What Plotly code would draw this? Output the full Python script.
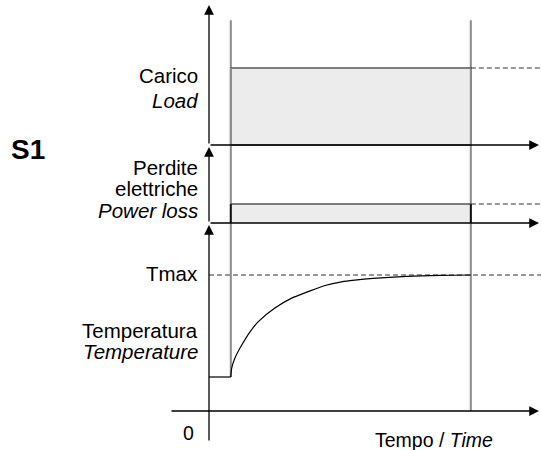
import plotly.graph_objects as go

# ---------------- data ----------------
t_on = 1.0            # switch-on instant
t_off = 12.0          # end of observed period
load_level = 1.0      # constant load (Carico / Load)
power_level = 1.0     # constant electrical losses (Perdite elettriche / Power loss)
t_ambient = 1.0       # starting temperature
t_max = 4.0           # Tmax

temp_time = [1.0, 1.04, 1.19, 1.50, 1.88, 2.26, 3.02, 3.79, 4.54, 5.32, 6.08,
             6.69, 7.52, 9.06, 10.6, 12.0]
temp_value = [1.0, 1.26, 1.56, 1.94, 2.33, 2.63, 3.03, 3.32, 3.51, 3.69, 3.80,
              3.85, 3.90, 3.96, 3.99, 4.0]

label_load = ["Carico", "<i>Load</i>"]
label_power = ["Perdite", "elettriche", "<i>Power loss</i>"]
label_temp = ["Temperatura", "<i>Temperature</i>"]
label_tmax = "Tmax"
label_time = "Tempo / <i>Time</i>"
label_zero = "0"
label_title = "<b>S1</b>"

# ---------------- layout calibration ----------------
W, H = 541, 450
PX_T = 240 / 11.0            # px per time unit
X0_PX = 209                  # pixel of time 0
XMIN = -X0_PX / PX_T
XMAX = (W - X0_PX) / PX_T

# temperature axis (y): 0 at px 411, 34 px/unit
T_ZERO, T_SCALE = 411, 34.0
# load axis (y2): 0 at px 145, 77 px/unit
L_ZERO, L_SCALE = 145, 77.0
# power axis (y3): 0 at px 223, 19 px/unit
P_ZERO, P_SCALE = 223, 19.0


def rng(zero, scale):
    return [-(H - zero) / scale, zero / scale]


FONT = "Liberation Sans, Arial, Helvetica, sans-serif"
GRAY = "#8a8a8a"
FILL = "#ececec"

fig = go.Figure()

# vertical instant lines (t_on down to the temperature step, t_off down to time axis)
top_load = 1.62 * load_level
top_temp = (T_ZERO - (L_ZERO - top_load * L_SCALE)) / T_SCALE
fig.add_trace(go.Scatter(x=[t_on, t_on], y=[t_ambient, top_temp],
                         mode="lines", line=dict(color=GRAY, width=2), yaxis="y",
                         hoverinfo="skip", showlegend=False))
fig.add_trace(go.Scatter(x=[t_off, t_off], y=[0, top_temp],
                         mode="lines", line=dict(color=GRAY, width=2), yaxis="y",
                         hoverinfo="skip", showlegend=False))

# load rectangle
fig.add_trace(go.Scatter(x=[t_on, t_on, t_off, t_off, t_on], y=[0, load_level, load_level, 0, 0],
                         mode="lines", fill="toself", fillcolor=FILL,
                         line=dict(color="#555555", width=1.3), yaxis="y2",
                         hoverinfo="skip", showlegend=False))
fig.add_trace(go.Scatter(x=[t_on, t_on], y=[0, load_level], mode="lines",
                         line=dict(color=GRAY, width=2), yaxis="y2",
                         hoverinfo="skip", showlegend=False))
fig.add_trace(go.Scatter(x=[t_off, t_off], y=[0, load_level], mode="lines",
                         line=dict(color=GRAY, width=2), yaxis="y2",
                         hoverinfo="skip", showlegend=False))

# power loss rectangle
fig.add_trace(go.Scatter(x=[t_on, t_off], y=[power_level, power_level],
                         mode="lines", fill="tozeroy", fillcolor=FILL,
                         line=dict(color="#555555", width=1.3), yaxis="y3",
                         hoverinfo="skip", showlegend=False))
for tt in (t_on, t_off):
    fig.add_trace(go.Scatter(x=[tt, tt], y=[0, power_level], mode="lines",
                             line=dict(color="#111111", width=2), yaxis="y3",
                             hoverinfo="skip", showlegend=False))

# dashed continuation lines
DASH = dict(color="#333333", width=1, dash="5px,3px")
fig.add_trace(go.Scatter(x=[t_off, XMAX], y=[load_level, load_level], mode="lines",
                         line=DASH, yaxis="y2", hoverinfo="skip", showlegend=False))
fig.add_trace(go.Scatter(x=[t_off, XMAX], y=[power_level, power_level], mode="lines",
                         line=DASH, yaxis="y3", hoverinfo="skip", showlegend=False))
fig.add_trace(go.Scatter(x=[0, XMAX], y=[t_max, t_max], mode="lines",
                         line=DASH, yaxis="y", hoverinfo="skip", showlegend=False))

# temperature curve
fig.add_trace(go.Scatter(x=[0, t_on], y=[t_ambient, t_ambient], mode="lines",
                         line=dict(color="#000000", width=1.2), yaxis="y",
                         hoverinfo="skip", showlegend=False))
fig.add_trace(go.Scatter(x=temp_time, y=temp_value, mode="lines",
                         line=dict(color="#000000", width=1.2, shape="spline", smoothing=0.8),
                         yaxis="y", hoverinfo="skip", showlegend=False))

annotations = []


def arrow(x, y, ax, ay, yref):
    annotations.append(dict(x=x, y=y, ax=ax, ay=ay, xref="x", yref=yref,
                            axref="x", ayref=yref, text="", showarrow=True,
                            arrowhead=2, arrowsize=1.5, arrowwidth=1.3,
                            arrowcolor="#000000", standoff=0))


# axes with arrows
tip_x = XMAX - 2 / PX_T
arrow(0, (L_ZERO - 5) / L_SCALE, 0, 0, "y2")
arrow(tip_x, 0, 0, 0, "y2")
arrow(0, (P_ZERO - 147) / P_SCALE, 0, 0, "y3")
arrow(tip_x, 0, 0, 0, "y3")
arrow(0, (T_ZERO - 225) / T_SCALE, 0, (T_ZERO - 442) / T_SCALE, "y")
arrow(tip_x, 0, (170 - X0_PX) / PX_T, 0, "y")


def label(text, ypx, size=20.5, xpx=200, anchor="right"):
    annotations.append(dict(x=xpx / W, y=1 - ypx / H, xref="paper", yref="paper",
                            text=text, showarrow=False, xanchor=anchor, yanchor="middle",
                            font=dict(family=FONT, size=size, color="#000000")))


for txt, ypx in zip(label_load, [76, 100]):
    label(txt, ypx)
for txt, ypx in zip(label_power, [168, 189, 210]):
    label(txt, ypx)
label(label_tmax, 273)
for txt, ypx in zip(label_temp, [330, 351]):
    label(txt, ypx)
label(label_zero, 433, size=19.5, xpx=188, anchor="center")
label(label_time, 440, size=19.5, xpx=434, anchor="center")
label(label_title, 150, size=28, xpx=9, anchor="left")

fig.update_layout(
    width=W, height=H,
    margin=dict(l=0, r=0, t=0, b=0),
    paper_bgcolor="white", plot_bgcolor="white",
    xaxis=dict(range=[XMIN, XMAX], visible=False, fixedrange=True),
    yaxis=dict(range=rng(T_ZERO, T_SCALE), visible=False, fixedrange=True),
    yaxis2=dict(range=rng(L_ZERO, L_SCALE), visible=False, overlaying="y", fixedrange=True),
    yaxis3=dict(range=rng(P_ZERO, P_SCALE), visible=False, overlaying="y", fixedrange=True),
    annotations=annotations,
    showlegend=False,
)

fig.write_html(
    "out.html",
    config={"displayModeBar": False},
    post_script="document.body.style.margin='0';document.body.style.overflow='hidden';",
)
